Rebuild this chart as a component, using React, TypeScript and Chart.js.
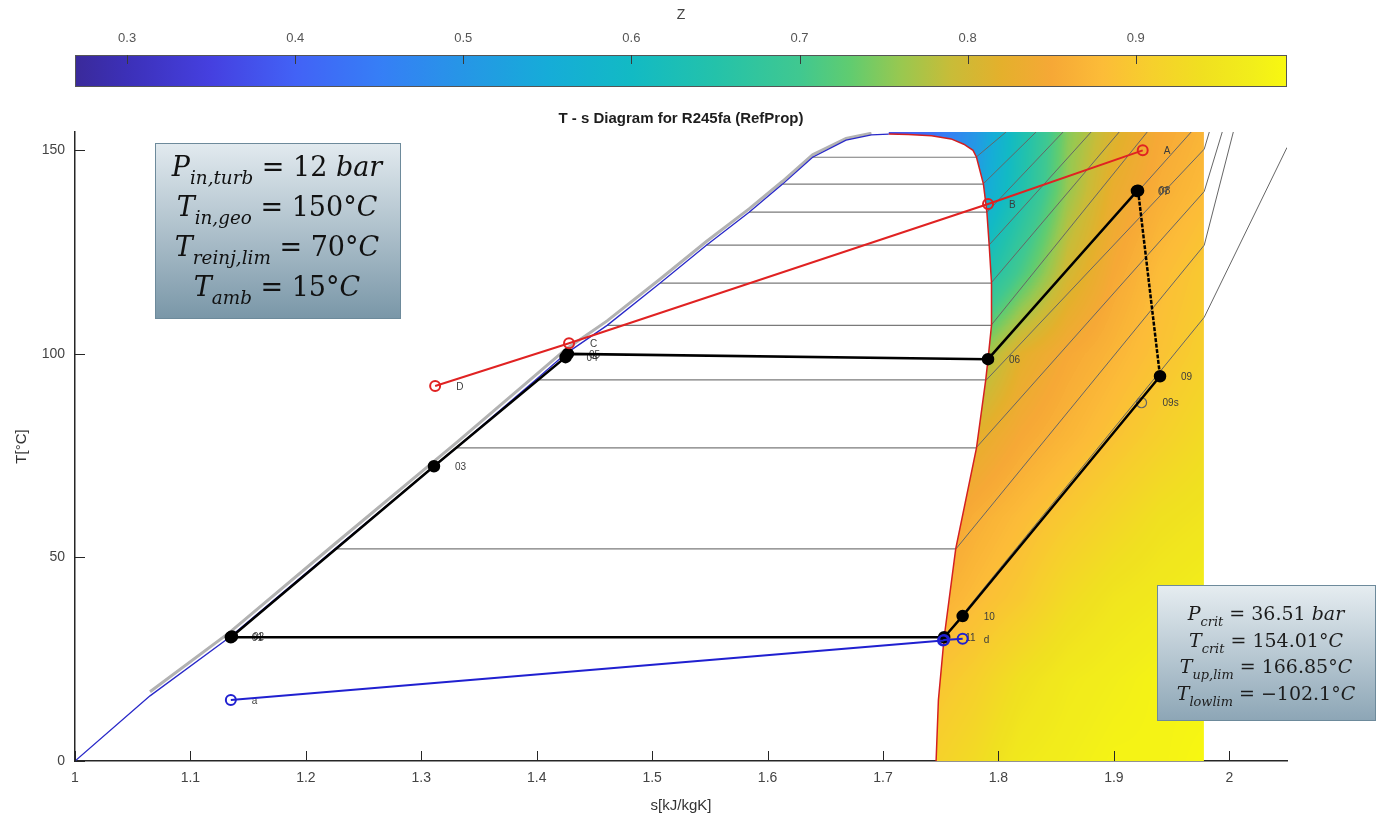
import React, { useEffect, useRef } from "react";
import { Chart, registerables } from "chart.js";
Chart.register(...registerables);

// ---------------- data ----------------
const xTickValues = [1, 1.1, 1.2, 1.3, 1.4, 1.5, 1.6, 1.7, 1.8, 1.9, 2];
const yTickValues = [0, 50, 100, 150];
const zTickValues = [0.3, 0.4, 0.5, 0.6, 0.7, 0.8, 0.9];
const sRange = [1, 2.05];
const tRange = [0, 154.5];
const zRange = [0.269, 0.99];

// saturated liquid line (blue)
const satLiqS = [1.0, 1.065, 1.134, 1.225, 1.311, 1.33, 1.399, 1.425, 1.461, 1.507, 1.547, 1.584, 1.613, 1.639, 1.668, 1.69, 1.705];
const satLiqT = [0, 16.0, 30.4, 52.1, 72.4, 76.9, 93.6, 100.0, 107.0, 117.4, 126.7, 134.8, 141.7, 148.3, 152.5, 153.8, 154.0];

// compressed-liquid isobars bundle (light grey band along the liquid line)
const liqBandS = [1.065, 1.134, 1.225, 1.311, 1.33, 1.399, 1.425, 1.461, 1.507, 1.547, 1.584, 1.613, 1.639, 1.668, 1.69];
const liqBandT = [17.0, 31.6, 53.3, 73.6, 78.1, 94.8, 101.1, 108.1, 118.4, 127.6, 135.6, 142.4, 148.9, 152.9, 154.2];

// saturated vapour line (red)
const satVapS = [1.705, 1.722, 1.742, 1.759, 1.77, 1.778, 1.781, 1.787, 1.79, 1.792, 1.794, 1.794, 1.791, 1.789, 1.781, 1.763, 1.753, 1.748, 1.746];
const satVapT = [154.0, 153.9, 153.6, 152.8, 151.5, 150.0, 148.3, 141.7, 134.8, 126.7, 117.4, 107.0, 98.7, 93.6, 76.9, 52.1, 30.4, 15.0, 0];

// two-phase isobars (horizontal)
const twoPhaseT = [148.3, 141.7, 134.8, 126.7, 117.4, 107.0, 93.6, 76.9, 52.1];
const twoPhaseSl = [1.639, 1.613, 1.584, 1.547, 1.507, 1.461, 1.399, 1.33, 1.225];
const twoPhaseSv = [1.781, 1.787, 1.79, 1.792, 1.794, 1.794, 1.789, 1.781, 1.763];

// superheated isobars (grey)
const supIsoS = [
  [1.7806, 1.8066],
  [1.7866, 1.8326],
  [1.7901, 1.856],
  [1.7918, 1.8803],
  [1.7936, 1.9046],
  [1.7936, 1.9289],
  [1.791, 1.967],
  [1.7892, 1.9783, 1.9827],
  [1.7806, 1.9783, 1.9939],
  [1.7632, 1.9783, 2.0035],
  [1.7528, 1.9783, 2.05],
];
const supIsoT = [
  [148.3, 154.5],
  [141.7, 154.5],
  [134.8, 154.5],
  [126.7, 154.5],
  [117.4, 154.5],
  [107.0, 154.5],
  [98.7, 154.5],
  [93.5, 150.3, 154.5],
  [76.9, 139.9, 154.5],
  [52.1, 126.7, 154.5],
  [30.4, 109.0, 150.7],
];

// ORC cycle (black)
const cycleLabels = ["01", "02", "03", "04", "05", "06", "07", "08", "09", "10", "11"];
const cycleS = [1.135, 1.136, 1.311, 1.425, 1.427, 1.791, 1.92, 1.921, 1.94, 1.769, 1.753];
const cycleT = [30.4, 30.6, 72.4, 99.2, 100.0, 98.7, 140.0, 140.1, 94.5, 35.6, 30.4];
const isenLabel = ["09s"];
const isenS = [1.924];
const isenT = [88.0];

// geothermal brine (red)
const geoLabels = ["A", "B", "C", "D"];
const geoS = [1.925, 1.791, 1.428, 1.312];
const geoT = [150.0, 136.8, 102.6, 92.1];

// cooling (blue)
const coolLabels = ["a", "", "", "d"];
const coolS = [1.135, 1.752, 1.753, 1.769];
const coolT = [15.0, 29.6, 29.7, 30.0];

// compressibility factor field Z (read on a coarse s-T grid)
const heatRightS = 1.978;
const zGridS = [1.7, 1.74, 1.78, 1.82, 1.86, 1.9, 1.94, 1.98];
const zGridT = [155, 140, 120, 100, 80, 60, 40, 20, 0];
const zGrid = [
  [0.36, 0.42, 0.5, 0.63, 0.75, 0.81, 0.85, 0.87],
  [0.4, 0.46, 0.52, 0.64, 0.76, 0.83, 0.86, 0.88],
  [0.5, 0.55, 0.61, 0.71, 0.8, 0.85, 0.88, 0.9],
  [0.65, 0.7, 0.75, 0.82, 0.85, 0.87, 0.89, 0.91],
  [0.75, 0.78, 0.82, 0.85, 0.87, 0.89, 0.91, 0.93],
  [0.8, 0.83, 0.86, 0.88, 0.9, 0.92, 0.94, 0.95],
  [0.84, 0.86, 0.88, 0.9, 0.93, 0.95, 0.96, 0.97],
  [0.87, 0.89, 0.91, 0.94, 0.96, 0.97, 0.98, 0.98],
  [0.89, 0.91, 0.93, 0.96, 0.97, 0.98, 0.98, 0.99],
];

// colour map
const cmapZ = [0.269, 0.3, 0.35, 0.4, 0.45, 0.5, 0.55, 0.6, 0.65, 0.7, 0.73, 0.76, 0.79, 0.82, 0.85, 0.88, 0.91, 0.94, 0.97, 0.99];
const cmapColors = ["#3a2a9a", "#3c30b8", "#4540e0", "#4262f6", "#367ef6", "#2696e6", "#16acd8", "#12bac4", "#24c2aa", "#40c890", "#60cc70", "#98c850", "#c8bc38", "#e4b02c", "#f6a836", "#fcbc38", "#f6d02c", "#f0e020", "#f2ee1a", "#f8f810"];

const titleText = "T - s Diagram for R245fa (RefProp)";
const leftBox = [
  [["P", "", 1], ["in,turb", "s", 1], [" = 12 ", "", 0], ["bar", "", 1]],
  [["T", "", 1], ["in,geo", "s", 1], [" = 150°", "", 0], ["C", "", 1]],
  [["T", "", 1], ["reinj,lim", "s", 1], [" = 70°", "", 0], ["C", "", 1]],
  [["T", "", 1], ["amb", "s", 1], [" = 15°", "", 0], ["C", "", 1]],
];
const rightBox = [
  [["P", "", 1], ["crit", "s", 1], [" = 36.51 ", "", 0], ["bar", "", 1]],
  [["T", "", 1], ["crit", "s", 1], [" = 154.01°", "", 0], ["C", "", 1]],
  [["T", "", 1], ["up,lim", "s", 1], [" = 166.85°", "", 0], ["C", "", 1]],
  [["T", "", 1], ["lowlim", "s", 1], [" = −102.1°", "", 0], ["C", "", 1]],
];

// ---------------- helpers ----------------
const FONT = '"Liberation Sans Narrow", "Liberation Sans", Arial, sans-serif';
const MATH = '"DejaVu Serif", "Liberation Serif", serif';

function hexToRgb(h: string) {
  const n = parseInt(h.slice(1), 16);
  return [(n >> 16) & 255, (n >> 8) & 255, n & 255];
}
function cmapRgb(z: number): number[] {
  if (z <= cmapZ[0]) return hexToRgb(cmapColors[0]);
  for (let i = 1; i < cmapZ.length; i++) {
    if (z <= cmapZ[i]) {
      const f = (z - cmapZ[i - 1]) / (cmapZ[i] - cmapZ[i - 1]);
      const a = hexToRgb(cmapColors[i - 1]);
      const b = hexToRgb(cmapColors[i]);
      return [0, 1, 2].map((k) => Math.round(a[k] + (b[k] - a[k]) * f));
    }
  }
  return hexToRgb(cmapColors[cmapColors.length - 1]);
}
function zAt(s: number, t: number): number {
  let c = 0;
  while (c < zGridS.length - 2 && s > zGridS[c + 1]) c++;
  let r = 0;
  while (r < zGridT.length - 2 && t < zGridT[r + 1]) r++;
  const fs = Math.min(1, Math.max(0, (s - zGridS[c]) / (zGridS[c + 1] - zGridS[c])));
  const ft = Math.min(1, Math.max(0, (zGridT[r] - t) / (zGridT[r] - zGridT[r + 1])));
  const a = zGrid[r][c] + (zGrid[r][c + 1] - zGrid[r][c]) * fs;
  const b = zGrid[r + 1][c] + (zGrid[r + 1][c + 1] - zGrid[r + 1][c]) * fs;
  return a + (b - a) * ft;
}
const pts = (S: number[], T: number[]) => S.map((s, i) => ({ x: s, y: T[i] }));

function drawRich(ctx: CanvasRenderingContext2D, runs: any[], cx: number, base: number, size: number) {
  const sub = size * 0.68;
  const fontOf = (r: any) => `${r[2] ? "italic " : ""}${r[1] === "s" ? sub : size}px ${MATH}`;
  let total = 0;
  const w = runs.map((r) => {
    ctx.font = fontOf(r);
    const m = ctx.measureText(r[0]).width;
    total += m;
    return m;
  });
  let x = cx - total / 2;
  ctx.textAlign = "left";
  ctx.textBaseline = "alphabetic";
  runs.forEach((r, i) => {
    ctx.font = fontOf(r);
    ctx.fillText(r[0], x, base + (r[1] === "s" ? size * 0.3 : 0));
    x += w[i];
  });
}

function drawBox(ctx: CanvasRenderingContext2D, x0: number, y0: number, x1: number, y1: number, top: string, bottom: string) {
  const g = ctx.createLinearGradient(0, y0, 0, y1);
  g.addColorStop(0, top);
  g.addColorStop(1, bottom);
  ctx.fillStyle = g;
  ctx.fillRect(x0, y0, x1 - x0, y1 - y0);
  ctx.strokeStyle = "#6d8a9b";
  ctx.lineWidth = 1;
  ctx.strokeRect(x0 + 0.5, y0 + 0.5, x1 - x0, y1 - y0);
}

// ---------------- plugins ----------------
const heatPlugin = {
  id: "heatField",
  beforeDatasetsDraw(chart: any) {
    const { ctx, chartArea: a, scales } = chart;
    const X = scales.x, Y = scales.y;
    const x0 = Math.floor(X.getPixelForValue(zGridS[0]));
    const x1 = Math.ceil(X.getPixelForValue(heatRightS));
    const y0 = Math.floor(a.top);
    const y1 = Math.ceil(a.bottom);
    const w = x1 - x0, h = y1 - y0;
    const off = document.createElement("canvas");
    off.width = w;
    off.height = h;
    const octx = off.getContext("2d")!;
    const img = octx.createImageData(w, h);
    const lut: number[][] = [];
    for (let k = 0; k <= 400; k++) lut.push(cmapRgb(zRange[0] + ((zRange[1] - zRange[0]) * k) / 400));
    const sCol = Array.from({ length: w }, (_, i) => X.getValueForPixel(x0 + i + 0.5));
    for (let j = 0; j < h; j++) {
      const t = Y.getValueForPixel(y0 + j + 0.5);
      for (let i = 0; i < w; i++) {
        const z = zAt(sCol[i], t);
        const k = Math.max(0, Math.min(400, Math.round(((z - zRange[0]) / (zRange[1] - zRange[0])) * 400)));
        const c = lut[k];
        const p = (j * w + i) * 4;
        img.data[p] = c[0];
        img.data[p + 1] = c[1];
        img.data[p + 2] = c[2];
        img.data[p + 3] = 255;
      }
    }
    octx.putImageData(img, 0, 0);

    ctx.save();
    ctx.beginPath();
    ctx.rect(a.left, a.top, a.right - a.left, a.bottom - a.top);
    ctx.clip();
    ctx.beginPath();
    ctx.moveTo(X.getPixelForValue(satVapS[0]), Y.getPixelForValue(tRange[1]));
    satVapS.forEach((s, i) => ctx.lineTo(X.getPixelForValue(s), Y.getPixelForValue(satVapT[i])));
    ctx.lineTo(X.getPixelForValue(heatRightS), Y.getPixelForValue(tRange[0]));
    ctx.lineTo(X.getPixelForValue(heatRightS), Y.getPixelForValue(tRange[1]));
    ctx.closePath();
    ctx.clip();
    ctx.drawImage(off, x0, y0);
    ctx.restore();

    // point labels (under the lines)
    ctx.save();
    ctx.font = `10px Arial, "Liberation Sans", sans-serif`;
    ctx.fillStyle = "#3c3c3c";
    ctx.textAlign = "left";
    ctx.textBaseline = "middle";
    const groups: [number[], number[], string[]][] = [
      [cycleS, cycleT, cycleLabels],
      [isenS, isenT, isenLabel],
      [geoS, geoT, geoLabels],
      [coolS, coolT, coolLabels],
    ];
    groups.forEach(([S, T, L]) => {
      S.forEach((s, i) => {
        if (!L[i]) return;
        ctx.fillText(L[i], X.getPixelForValue(s) + 21, Y.getPixelForValue(T[i]) + 1);
      });
    });
    ctx.restore();
  },
  afterDatasetsDraw(chart: any) {
    const { ctx, chartArea: a, scales } = chart;
    const X = scales.x, Y = scales.y;
    ctx.save();
    ctx.strokeStyle = "#262626";
    ctx.lineWidth = 1;
    xTickValues.forEach((v) => {
      const px = Math.round(X.getPixelForValue(v)) + 0.5;
      ctx.beginPath();
      ctx.moveTo(px, a.bottom);
      ctx.lineTo(px, a.bottom - 10);
      ctx.stroke();
    });
    yTickValues.forEach((v) => {
      const py = Math.round(Y.getPixelForValue(v)) + 0.5;
      ctx.beginPath();
      ctx.moveTo(a.left, py);
      ctx.lineTo(a.left + 10, py);
      ctx.stroke();
    });
    ctx.restore();

    ctx.save();
    drawBox(ctx, 155, 143, 400, 318, "#e2eaef", "#7a97a8");
    ctx.fillStyle = "#111";
    const lb = [176, 216, 256, 296];
    leftBox.forEach((runs, i) => drawRich(ctx, runs, 277, lb[i], 27));
    drawBox(ctx, 1157, 585, 1375, 720, "#e6edf1", "#8da6b6");
    ctx.fillStyle = "#1c1c1c";
    const rb = [620, 647, 673, 700];
    rightBox.forEach((runs, i) => drawRich(ctx, runs, 1266, rb[i], 19));
    ctx.restore();
  },
};

const colorbarPlugin = {
  id: "colorbar",
  afterDraw(chart: any) {
    const { ctx, chartArea: a, scales } = chart;
    const X = scales.x;
    ctx.save();
    const g = ctx.createLinearGradient(a.left, 0, a.right, 0);
    cmapZ.forEach((z, i) => g.addColorStop((z - zRange[0]) / (zRange[1] - zRange[0]), cmapColors[i]));
    ctx.fillStyle = g;
    ctx.fillRect(a.left, a.top, a.right - a.left, a.bottom - a.top);
    ctx.strokeStyle = "#555";
    ctx.lineWidth = 1;
    ctx.strokeRect(a.left + 0.5, a.top + 0.5, a.right - a.left - 1, a.bottom - a.top - 1);
    ctx.strokeStyle = "#3a3a3a";
    zTickValues.forEach((v) => {
      const px = Math.round(X.getPixelForValue(v)) + 0.5;
      ctx.beginPath();
      ctx.moveTo(px, a.top);
      ctx.lineTo(px, a.top + 9);
      ctx.stroke();
    });
    ctx.restore();
  },
};

// ---------------- component ----------------
export default function App() {
  const mainRef = useRef<HTMLCanvasElement>(null);
  const barRef = useRef<HTMLCanvasElement>(null);

  useEffect(() => {
    const line = (data: any[], color: string, width: number, order: number, extra: any = {}) => ({
      data, borderColor: color, backgroundColor: color, borderWidth: width, pointRadius: 0,
      showLine: true, tension: 0, order, ...extra,
    });
    const datasets: any[] = [];
    datasets.push(line(pts(liqBandS, liqBandT), "#b2b2b2", 3, 9));
    twoPhaseT.forEach((t, i) => datasets.push(line([{ x: twoPhaseSl[i], y: t }, { x: twoPhaseSv[i], y: t }], "#7a7a7a", 1.2, 8)));
    supIsoS.forEach((S, i) => datasets.push(line(pts(S, supIsoT[i]), "#666666", 1, 8)));
    datasets.push(line(pts(satLiqS, satLiqT), "#2828c8", 1.3, 6));
    datasets.push(line(pts(satVapS, satVapT), "#d42020", 1.5, 6));
    const cyc = pts(cycleS, cycleT);
    cyc.push({ x: cycleS[0], y: cycleT[0] });
    datasets.push(line(cyc, "#000000", 2.5, 3, {
      pointRadius: cyc.map((_, i) => (i === cyc.length - 1 ? 0 : 5)),
      pointBackgroundColor: "#000", pointBorderColor: "#000",
      segment: { borderDash: (c: any) => (c.p0DataIndex === 7 ? [4, 1.5] : undefined) },
    }));
    datasets.push(line(pts(isenS, isenT), "#555", 1.2, 3, { showLine: false, pointRadius: 5, pointBackgroundColor: "rgba(0,0,0,0)", pointBorderColor: "#666", pointBorderWidth: 1.2 }));
    datasets.push(line(pts(geoS, geoT), "#e02222", 2, 2, { pointRadius: 5, pointBackgroundColor: "rgba(255,255,255,0)", pointBorderColor: "#e02222", pointBorderWidth: 2 }));
    datasets.push(line(pts(coolS, coolT), "#2020d0", 2, 1, { pointRadius: 5, pointBackgroundColor: "rgba(255,255,255,0)", pointBorderColor: "#2020d0", pointBorderWidth: 2 }));

    const tickFont = { family: FONT, size: 14 };
    const main = new Chart(mainRef.current!, {
      type: "scatter",
      data: { datasets },
      plugins: [heatPlugin],
      options: {
        responsive: false,
        animation: false,
        events: [],
        layout: { padding: { left: 0, right: 96, top: 0, bottom: 0 } },
        plugins: {
          legend: { display: false },
          tooltip: { enabled: false },
          title: {
            display: true, text: titleText, fullSize: false, color: "#1e1e1e",
            font: { family: FONT, size: 15, weight: "bold" }, padding: { top: 110, bottom: 4 },
          },
        },
        scales: {
          x: {
            type: "linear", position: "bottom", min: sRange[0], max: sRange[1],
            afterFit: (s: any) => { s.height = 66; },
            afterBuildTicks: (s: any) => { s.ticks = xTickValues.map((v) => ({ value: v })); },
            ticks: { font: tickFont, color: "#444", padding: 9, maxRotation: 0, autoSkip: false, callback: (v: any) => String(Number(Number(v).toFixed(2))) },
            grid: { display: false, drawTicks: false },
            border: { display: true, color: "#262626", width: 1.5 },
            title: { display: true, text: "s[kJ/kgK]", color: "#333", font: { family: FONT, size: 15 }, padding: { top: 0, bottom: 12 } },
          },
          y: {
            type: "linear", position: "left", min: tRange[0], max: tRange[1],
            afterFit: (s: any) => { s.width = 75; },
            afterBuildTicks: (s: any) => { s.ticks = yTickValues.map((v) => ({ value: v })); },
            ticks: { font: tickFont, color: "#444", padding: 10, autoSkip: false },
            grid: { display: false, drawTicks: false },
            border: { display: true, color: "#262626", width: 1.5 },
            title: { display: true, text: "T[°C]", color: "#333", font: { family: FONT, size: 15 }, padding: { top: 13, bottom: 0 } },
          },
        },
      } as any,
    });

    const bar = new Chart(barRef.current!, {
      type: "scatter",
      data: { datasets: [] },
      plugins: [colorbarPlugin],
      options: {
        responsive: false,
        animation: false,
        events: [],
        layout: { padding: { left: 75, right: 96, top: 0, bottom: 8 } },
        plugins: { legend: { display: false }, tooltip: { enabled: false } },
        scales: {
          x: {
            type: "linear", position: "top", min: zRange[0], max: zRange[1],
            afterFit: (s: any) => { s.height = 55; },
            afterBuildTicks: (s: any) => { s.ticks = zTickValues.map((v) => ({ value: v })); },
            ticks: { font: { family: FONT, size: 13 }, color: "#555", padding: 9, maxRotation: 0, autoSkip: false, callback: (v: any) => Number(v).toFixed(1) },
            grid: { display: false, drawTicks: false },
            border: { display: false },
            title: { display: true, text: "Z", color: "#444", font: { family: FONT, size: 14 }, padding: { top: 7, bottom: 0 } },
          },
          y: { display: false, min: 0, max: 1 },
        },
      } as any,
    });

    return () => {
      main.destroy();
      bar.destroy();
    };
  }, []);

  return (
    <div style={{ position: "absolute", left: 0, top: 0, width: 1383, height: 827, background: "#fff" }}>
      <canvas ref={mainRef} width={1383} height={827} style={{ position: "absolute", left: 0, top: 0 }} />
      <canvas ref={barRef} width={1383} height={95} style={{ position: "absolute", left: 0, top: 0 }} />
    </div>
  );
}
